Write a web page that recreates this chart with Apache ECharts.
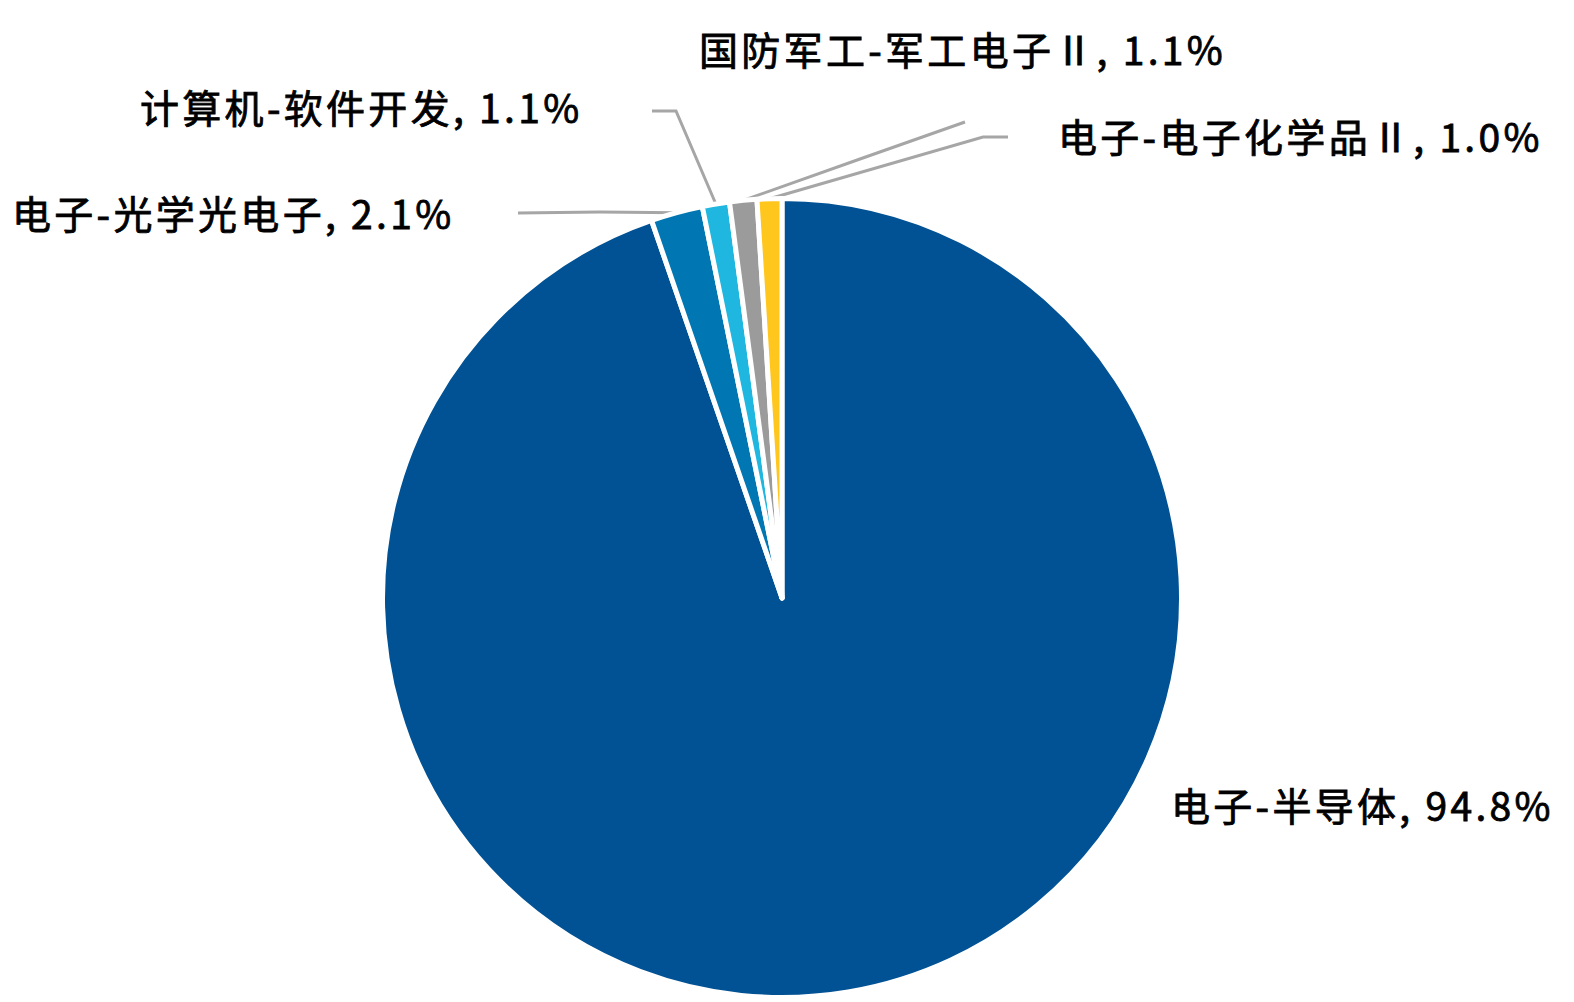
<!DOCTYPE html>
<html>
<head>
<meta charset="utf-8">
<script src="https://cdn.jsdelivr.net/npm/echarts@6/dist/echarts.min.js"></script>
<style>
html,body{margin:0;padding:0;background:#fff;}
#chart{width:1574px;height:1002px;}
#chart text{letter-spacing:3.3px;}
</style>
</head>
<body>
<div id="chart"></div>
<script>
// ---- data ----
const categories = ['电子-半导体', '电子-光学光电子', '计算机-软件开发', '国防军工-军工电子Ⅱ', '电子-电子化学品Ⅱ'];
const values = [94.8, 2.1, 1.1, 1.1, 1.0];
const colors = ['#005294', '#0077B3', '#1FB7E0', '#9B9B9B', '#FFC61E'];

// ---- label layout (positions only) ----
const labelPos = [
  {x: 1171, y: 804, line: null},
  {x: 12, y: 212, line: [[600, 212], [518, 213]]},
  {x: 140, y: 106, line: [[676, 111], [652, 111]]},
  {x: 699, y: 48, line: [[860, 159], [965, 122]]},
  {x: 1058, y: 135, line: [[983, 137], [1008, 137]]}
];

const chart = echarts.init(document.getElementById('chart'), null, {renderer: 'svg'});
chart.setOption({
  animation: false,
  backgroundColor: '#ffffff',
  series: [{
    type: 'pie',
    center: [782, 598],
    radius: 399.5,
    startAngle: 90,
    clockwise: true,
    avoidLabelOverlap: false,
    itemStyle: {borderColor: '#ffffff', borderWidth: 5},
    label: {
      show: true,
      formatter: p => p.name + ', ' + p.value.toFixed(1) + '%',
      fontFamily: '"Noto Sans CJK SC", "Noto Sans", sans-serif',
      fontSize: 39,
      color: '#000000',
      textBorderColor: '#000000',
      textBorderWidth: 0.8
    },
    labelLine: {show: true, lineStyle: {color: '#A6A6A6', width: 3}},
    labelLayout: function (p) {
      const c = labelPos[p.dataIndex];
      const out = {x: c.x, y: c.y, align: 'left', verticalAlign: 'middle'};
      if (c.line && p.labelLinePoints) {
        out.labelLinePoints = [p.labelLinePoints[0]].concat(c.line);
      }
      return out;
    },
    emphasis: {disabled: true},
    data: categories.map((n, i) => ({
      name: n,
      value: values[i],
      itemStyle: {color: colors[i]},
      labelLine: {show: i !== 0}
    }))
  }]
});
</script>
</body>
</html>
